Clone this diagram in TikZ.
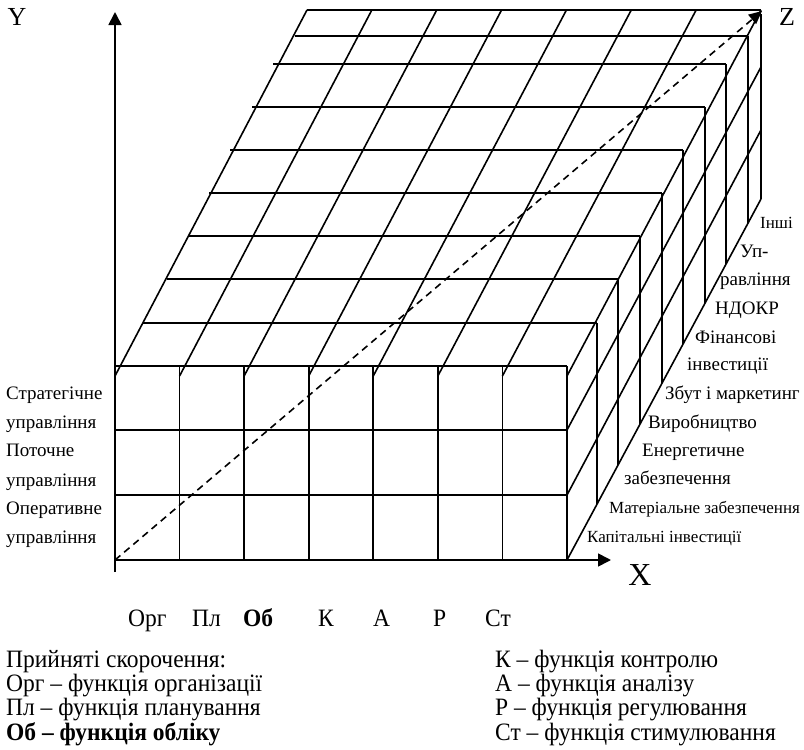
\documentclass[tikz,border=0pt]{standalone}
\usepackage{fontspec}
\setmainfont{Liberation Serif}
\newfontfamily\legfont[FakeStretch=0.94]{Liberation Serif}
\usetikzlibrary{arrows.meta}
\begin{document}
\begin{tikzpicture}[x=1pt,y=-1pt,line cap=butt,
  gridline/.style={line width=1.6pt},
  axisline/.style={line width=1.7pt,-{Triangle[length=13pt,width=13pt]}},
  diagline/.style={line width=1.6pt,dash pattern=on 7pt off 5pt,-{Triangle[length=13pt,width=12pt]}},
  lbl/.style={anchor=base west,inner sep=0pt,font=\fontsize{19}{19}\selectfont},
  slbl/.style={anchor=base west,inner sep=0pt,font=\fontsize{17}{17}\selectfont},
  axlbl/.style={inner sep=0pt,font=\fontsize{26}{26}\selectfont},
  legend/.style={anchor=base west,inner sep=0pt,font=\legfont\fontsize{25}{25}\selectfont}]
\useasboundingbox (0,0) rectangle (804,750);

% named points
\coordinate (O) at (115,560);
\coordinate (Ybot) at (115,572);
\coordinate (Ytip) at (115,12);
\coordinate (Xtip) at (611,560);
\coordinate (Ztip) at (762,11);
\coordinate (Bbot) at (761,199);
\coordinate (Btop) at (761,14);

% front face
\foreach \k in {0,...,7}
  \draw[gridline] ({115+64.571*\k},366) -- ({115+64.571*\k},560);
\foreach \yy in {366,430,495}
  \draw[gridline] (115,\yy) -- (567,\yy);

% top face: depth lines
\foreach \k in {0,...,7}
  \draw[gridline] ({115+64.571*\k},376) -- ({307+64.857*\k},10);
% top face: rows
\foreach \yy/\xl/\xr in {323/143/597,279/167/618,236/188/640,193/209/662,150/230/683,107/252/705,64/273/726,36/295/748}
  \draw[gridline] (\xl,\yy) -- (\xr,\yy);
\draw[gridline] (307,10) -- (761,10);

% right face: verticals
\foreach \xx/\yy in {597/323,618/279,640/236,662/193,683/150,705/107,726/64,748/36}
  \draw[gridline] (\xx,\yy) -- (\xx,{560-1.861*(\xx-567)});
% right face: depth lines
\draw[gridline] (567,430) -- (761,67);
\draw[gridline] (567,495) -- (761,130);
\draw[gridline] (567,560) -- (Bbot);
\draw[gridline] (Bbot) -- (Btop);

% axes
\draw[axisline] (Ybot) -- (Ytip);
\draw[axisline] (O) -- (Xtip);
\draw[diagline] (O) -- (Ztip);

\node[axlbl] (ylab) at (17,17) {Y};
\node[axlbl,font=\fontsize{32}{32}\selectfont] (xlab) at (640,575) {X};
\node[axlbl] (zlab) at (787,17) {Z};

% left labels
\node[lbl] (l1) at (6,399) {Стратегічне};
\node[lbl] (l2) at (6,428) {управління};
\node[lbl] (l3) at (6,456) {Поточне};
\node[lbl] (l4) at (6,486) {управління};
\node[lbl] (l5) at (6,514) {Оперативне};
\node[lbl] (l6) at (6,543) {управління};

% right labels
\node[slbl] (r1) at (760,228) {Інші};
\node[lbl] (r2) at (740,257) {Уп-};
\node[lbl] (r3) at (720,285) {равління};
\node[lbl] (r4) at (715,314) {НДОКР};
\node[lbl] (r5) at (695,343) {Фінансові};
\node[lbl] (r6) at (687,370) {інвестиції};
\node[lbl] (r7) at (665,399) {Збут і маркетинг};
\node[lbl] (r8) at (648,428) {Виробництво};
\node[lbl] (r9) at (642,456) {Енергетичне};
\node[lbl] (r10) at (624,484) {забезпечення};
\node[slbl] (r11) at (609,513) {Матеріальне забезпечення};
\node[slbl] (r12) at (587,542) {Капітальні інвестиції};

% column abbreviations
\node[legend] (c1) at (128,626) {Орг};
\node[legend] (c2) at (192,626) {Пл};
\node[legend] (c3) at (243,626) {\bfseries Об};
\node[legend] (c4) at (318,626) {К};
\node[legend] (c5) at (373,626) {А};
\node[legend] (c6) at (433,626) {Р};
\node[legend] (c7) at (485,626) {Ст};

% legend
\node[legend] (g1) at (6,667) {Прийняті скорочення:};
\node[legend] (g2) at (6,691) {Орг – функція організації};
\node[legend] (g3) at (6,715) {Пл – функція планування};
\node[legend] (g4) at (6,740) {\bfseries Об – функція обліку};
\node[legend] (g5) at (495,667) {К – функція контролю};
\node[legend] (g6) at (495,691) {А – функція аналізу};
\node[legend] (g7) at (495,715) {Р – функція регулювання};
\node[legend] (g8) at (495,740) {Ст – функція стимулювання};
\end{tikzpicture}
\end{document}
